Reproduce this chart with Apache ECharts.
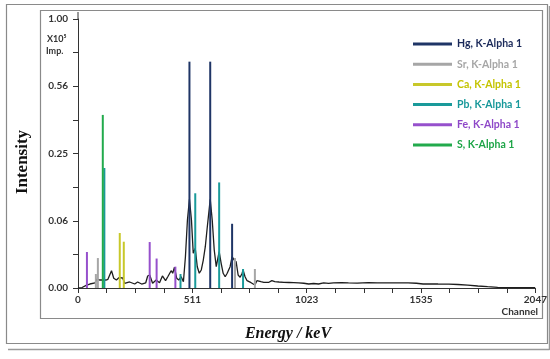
<!DOCTYPE html>
<html><head><meta charset="utf-8">
<script src="https://cdn.jsdelivr.net/npm/echarts@6/dist/echarts.min.js"></script>
<style>html,body{margin:0;padding:0;background:#fff}#c{width:550px;height:359px}</style>
</head><body><div id="c"></div>
<script>
// Spectrum: [channel, intensity (x10^5 Imp.)]
const spectrumChannels = [0,18,39,53,76,85,98,111,125,134,150,160,172,183,191,200,209,217,231,254,267,285,303,312,321,334,350,365,378,392,402,417,424,432,442,451,462,472,481,490,499,508,516,525,534,543,552,561,570,579,592,601,610,619,632,641,650,659,668,681,690,699,708,717,726,735,739,748,757,775,792,801,819,832,855,868,881,900,922,945,966,988,1011,1033,1055,1077,1100,1122,1144,1180,1211,1250,1300,1340,1389,1430,1478,1515,1545,1580,1612,1660,1701,1745,1790,1834,1879,1923,1990,2047];
const spectrumValues = [0,0.000003,0.00012,0.00022,0.00035,0.00112,0.00088,0.00088,0.00088,0.00105,0.00414,0.0013,0.00088,0.00147,0.00167,0.00138,0.00031,0.00012,0.0005,0.00022,0.0005,0.00022,0.00035,0.002,0.00234,0.00031,0.00088,0.00039,0.002,0.00074,0.00176,0.00414,0.003,0.00592,0.0013,0.00088,0.00176,0.00055,0.01354,0.0639,0.1087,0.0639,0.01664,0.02178,0.00627,0.003,0.00448,0.01083,0.02357,0.05193,0.1087,0.0639,0.01996,0.00627,0.01821,0.00843,0.003,0.00176,0.003,0.00627,0.01354,0.01083,0.00956,0.00234,0.00158,0.003,0.00448,0.00176,0.00074,0.00039,0.00012,0.00074,0.00055,0.00045,0.00045,0.00074,0.00055,0.0005,0.00045,0.00042,0.00039,0.00035,0.00031,0.00022,0.00028,0.00022,0.00035,0.0003,0.00035,0.00038,0.00035,0.00033,0.00039,0.00035,0.00035,0.00037,0.00035,0.00031,0.00022,0.00024,0.00022,0.0002,0.00017,0.00012,0.000055,0.000023,0.000007,0.000002,0.000002,0.000002];

// Element marker lines: channel and intensity
const elements = ['Hg, K-Alpha 1','Sr, K-Alpha 1','Ca, K-Alpha 1','Pb, K-Alpha 1','Fe, K-Alpha 1','S, K-Alpha 1'];
const colors = ['#1f3566','#a6a6a6','#c8c82a','#1a9a9a','#9650cc','#22aa4c'];
const textColors = ['#1b2a5a','#a6a6a6','#c4c400','#17989a','#8e48c8','#1ea548'];
const hgChannels = [499,592,690];      const hgValues = [0.708,0.708,0.057];
const srChannels = [80,89,703,792];    const srValues = [0.0027,0.0124,0.0124,0.005];
const caChannels = [187,205];          const caValues = [0.0418,0.0296];
const pbChannels = [118,459,525,632,739]; const pbValues = [0.199,0.0027,0.124,0.154,0.005];
const feChannels = [40,321,352,436];   const feValues = [0.0179,0.0292,0.012,0.0063];
const sChannels = [111];               const sValues = [0.414];

const yTickLabels = ['0.00','0.06','0.25','0.56','1.00'];
const xTickLabels = ['0','511','1023','1535','2047'];

const markerSets = [[hgChannels,hgValues],[srChannels,srValues],[caChannels,caValues],[pbChannels,pbValues],[feChannels,feValues],[sChannels,sValues]];

const chart = echarts.init(document.getElementById('c'), null, {renderer:'canvas'});
const tf = v => Math.sqrt(v);
const lblFont = 'Lato';

const series = [{
  type:'line', name:'spectrum', data: spectrumChannels.map((c,i)=>[c, tf(spectrumValues[i])]),
  showSymbol:false, symbol:'none', lineStyle:{color:'#1e1e1e', width:1.3}, z:2, silent:true
}];
markerSets.forEach((m,k)=>{
  series.push({
    type:'bar', name: elements[k], barWidth:2, barGap:'-100%',
    itemStyle:{color: colors[k]}, z:3,
    data: m[0].map((c,i)=>[c, tf(m[1][i])])
  });
});

chart.setOption({
  animation:false,
  grid:{left:78, right:12, top:19, bottom:71, containLabel:false},
  xAxis:{type:'value', min:0, max:2048, interval:128,
    axisLine:{show:true, lineStyle:{color:'#333', width:1}},
    axisTick:{show:true, inside:false, length:5, lineStyle:{color:'#333'}},
    splitLine:{show:false},
    axisLabel:{margin:7, fontFamily:lblFont, fontWeight:'bold', fontSize:10, color:'#333',
      formatter:v=>{ if (v%512!==0) return ''; return xTickLabels[v/512]; }}
  },
  yAxis:{type:'value', min:0, max:1, interval:0.125,
    axisLine:{show:true, lineStyle:{color:'#333', width:1}},
    axisTick:{show:true, inside:false, length:5, lineStyle:{color:'#333'}},
    splitLine:{show:false},
    axisLabel:{margin:10, fontFamily:lblFont, fontWeight:'bold', fontSize:10, color:'#333',
      formatter:v=>{ const k=Math.round(v/0.125); if (k%2) return ''; return yTickLabels[k/2]; }}
  },
  legend:{orient:'vertical', left:413, top:37, padding:0, itemWidth:39, itemHeight:3, itemGap:6.2, icon:'rect',
    textStyle:{fontFamily:lblFont, fontWeight:'bold', fontSize:10.5, lineHeight:14, padding:[0,0,0,0]},
    data: elements.map((e,k)=>({name:e, textStyle:{color:textColors[k]}}))
  },
  series: series,
  graphic:[
    {type:'rect', shape:{x:6.5,y:4.5,width:541,height:339}, style:{fill:'none', stroke:'#8a8a8a', lineWidth:1.2}, silent:true},
    {type:'line', shape:{x1:549.5,y1:6,x2:549.5,y2:350}, style:{stroke:'#9a9a9a', lineWidth:1.5}},
    {type:'line', shape:{x1:8,y1:349.5,x2:549.5,y2:349.5}, style:{stroke:'#9a9a9a', lineWidth:1.5}},
    {type:'rect', shape:{x:40.5,y:10.5,width:502,height:308}, style:{fill:'none', stroke:'#8a8a8a', lineWidth:1.2}, silent:true},
    {type:'line', shape:{x1:78,y1:12,x2:78,y2:19}, style:{stroke:'#333', lineWidth:1}},
    {type:'text', left:47, top:35, style:{text:'X10\u2075', font:'bold 9px Lato', fill:'#333'}},
    {type:'text', left:46, top:47, style:{text:'Imp.', font:'bold 9px Lato', fill:'#333'}},
    {type:'text', right:12, top:307, style:{text:'Channel', font:'bold 10px Lato', fill:'#333'}},
    {type:'text', x:23, y:162, rotation:Math.PI/2, style:{text:'Intensity', font:'bold 17px "Liberation Serif"', fill:'#111', align:'center', verticalAlign:'middle'}},
    {type:'text', x:288, y:334, style:{text:'Energy / keV', font:'italic bold 16px "Liberation Serif"', fill:'#111', align:'center', verticalAlign:'middle'}}
  ]
});
</script></body></html>
